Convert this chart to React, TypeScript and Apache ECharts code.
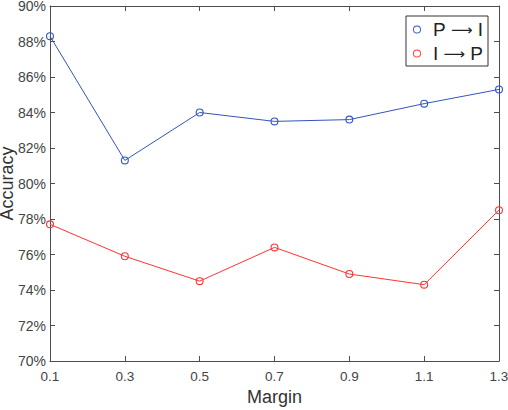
import React, { useEffect, useRef } from "react";
import * as echarts from "echarts";

const margins = ["0.1", "0.3", "0.5", "0.7", "0.9", "1.1", "1.3"];
const pToI = [88.3, 81.3, 84.0, 83.5, 83.6, 84.5, 85.3];
const iToP = [77.7, 75.9, 74.5, 76.4, 74.9, 74.3, 78.5];
const seriesNames = ["P \u2192 I", "I \u2192 P"];
const BLUE = "#3355bb";
const RED = "#ff3333";
const AXIS = "#4d4d4d";
const FONT = "Liberation Sans";
const RING =
  "path://M0,4A4,4 0 1,0 8,4A4,4 0 1,0 0,4ZM0.9,4A3.1,3.1 0 1,1 7.1,4A3.1,3.1 0 1,1 0.9,4Z";
const MARK =
  "path://M0,4A4,4 0 1,0 8,4A4,4 0 1,0 0,4ZM1.1,4A2.9,2.9 0 1,1 6.9,4A2.9,2.9 0 1,1 1.1,4Z";

export default function App() {
  const ref = useRef<HTMLDivElement>(null);
  useEffect(() => {
    if (!ref.current) return;
    const chart = echarts.init(ref.current, null, { renderer: "svg" });
    const yCommon = {
      type: "value",
      min: 70,
      max: 90,
      interval: 2,
      splitLine: { show: false },
      axisLine: { show: true, lineStyle: { color: AXIS, width: 1 } },
      axisTick: { show: true, inside: true, length: 5, lineStyle: { color: AXIS } },
    };
    const xCommon = {
      type: "category",
      data: margins,
      boundaryGap: false,
      splitLine: { show: false },
      axisLine: { show: true, lineStyle: { color: AXIS, width: 1 } },
      axisTick: { show: true, inside: true, length: 5, lineStyle: { color: AXIS } },
    };
    chart.setOption({
      animation: false,
      backgroundColor: "#ffffff",
      textStyle: { fontFamily: FONT },
      grid: { left: 50, right: 9, top: 6, bottom: 49, outerBoundsMode: "none", containLabel: false },
      legend: {
        orient: "vertical",
        right: 20,
        top: 16,
        itemWidth: 22,
        itemHeight: 8,
        itemGap: 5,
        padding: [4, 5, 3, 7],
        borderColor: "#333333",
        borderWidth: 1,
        borderRadius: 0,
        backgroundColor: "#ffffff",
        formatter: (name: string) => {
          const parts = name.split(" \u2192 ");
          return parts[0] + " {a|\u27F6} " + parts[1];
        },
        textStyle: {
          fontSize: 19,
          color: "#222222",
          fontFamily: FONT,
          rich: {
            a: { fontSize: 15, fontFamily: "DejaVu Sans", color: "#222222" },
          },
        },
        data: [
          { name: seriesNames[0], icon: RING, itemStyle: { color: BLUE, borderWidth: 0 } },
          { name: seriesNames[1], icon: RING, itemStyle: { color: RED, borderWidth: 0 } },
        ],
      },
      xAxis: [
        {
          ...xCommon,
          position: "bottom",
          name: "Margin",
          nameLocation: "middle",
          nameGap: 27,
          nameMoveOverlap: false,
          nameTextStyle: { fontSize: 18, color: "#333333", fontFamily: FONT },
          axisLabel: { show: true, fontSize: 13.5, color: "#444444", margin: 8, fontFamily: FONT },
        },
        {
          ...xCommon,
          position: "top",
          axisLabel: { show: false },
        },
      ],
      yAxis: [
        {
          ...yCommon,
          position: "left",
          name: "Accuracy",
          nameLocation: "middle",
          nameGap: 34,
          nameMoveOverlap: false,
          nameTextStyle: { fontSize: 18, color: "#333333", fontFamily: FONT },
          axisLabel: {
            show: true,
            fontSize: 14,
            color: "#444444",
            margin: 4,
            fontFamily: FONT,
            formatter: (v: number) => v + "%",
          },
        },
        {
          ...yCommon,
          position: "right",
          axisLabel: { show: false },
        },
      ],
      series: [
        {
          name: seriesNames[0],
          type: "line",
          xAxisIndex: 0,
          yAxisIndex: 0,
          data: pToI,
          symbol: MARK,
          symbolSize: 8,
          itemStyle: { color: BLUE, borderWidth: 0 },
          lineStyle: { color: BLUE, width: 1 },
        },
        {
          name: seriesNames[1],
          type: "line",
          xAxisIndex: 0,
          yAxisIndex: 0,
          data: iToP,
          symbol: MARK,
          symbolSize: 8,
          itemStyle: { color: RED, borderWidth: 0 },
          lineStyle: { color: RED, width: 1 },
        },
      ],
    });
    return () => chart.dispose();
  }, []);
  return <div ref={ref} style={{ width: 508, height: 410, position: "absolute", left: 0, top: 0 }} />;
}
